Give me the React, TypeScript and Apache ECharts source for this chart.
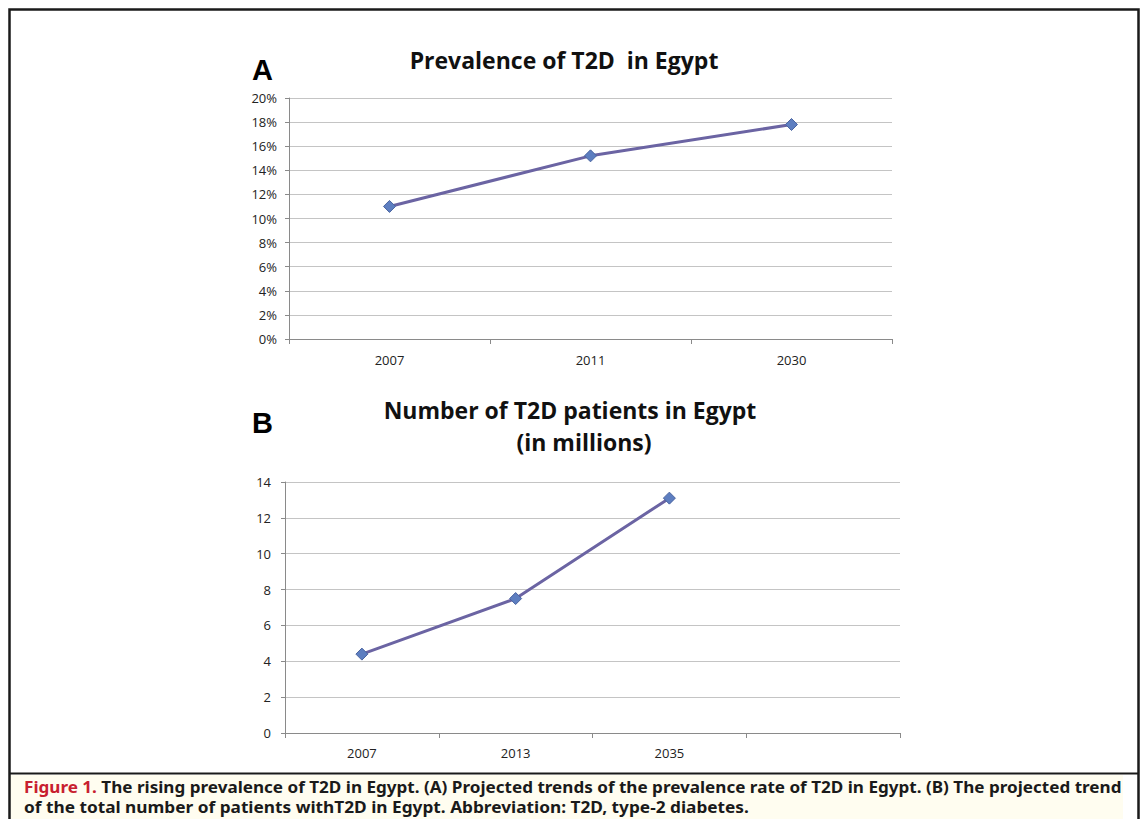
import React, { useEffect, useRef } from "react";
import * as echarts from "echarts";

const catsA = ["2007", "2011", "2030"];
const valsA = [11.0, 15.2, 17.8];
const catsB = ["2007", "2013", "2035", ""];
const valsB: (number | null)[] = [4.4, 7.5, 13.1, null];

const titleA = "Prevalence of T2D  in Egypt";
const titleB1 = "Number of T2D patients in Egypt";
const titleB2 = "(in millions)";
const captionRed = "Figure 1.";
const caption1 = " The rising prevalence of T2D in Egypt. (A) Projected trends of the prevalence rate of T2D in Egypt. (B) The projected trend";
const caption2 = "of the total number of patients withT2D in Egypt. Abbreviation: T2D, type-2 diabetes.";

const LINE = "#6b64a3";
const MARK = "#5d7ec0";
const FONT = "'Open Sans', 'Noto Sans', sans-serif";
const CAPFONT = "'Noto Sans', 'Open Sans', sans-serif";

function measure(text: string, font: string): number {
  const c = document.createElement("canvas").getContext("2d")!;
  c.font = font;
  return c.measureText(text).width;
}

export default function App() {
  const ref = useRef<HTMLDivElement>(null);
  useEffect(() => {
    const chart = echarts.init(ref.current!, undefined, { renderer: "svg" });
    const axisLabel = { color: "#222", fontSize: 13, fontFamily: FONT };
    const capFont = `bold 16px ${CAPFONT}`;
    const w1 = measure(captionRed + caption1, capFont);
    const w2 = measure(caption2, capFont);
    const s1 = Math.min(1.2, 1098 / w1);
    const s2 = Math.min(1.2, 726 / w2);
    const series = (data: any, xi: number) => ({
      type: "line",
      xAxisIndex: xi,
      yAxisIndex: xi,
      data,
      symbol: "diamond",
      symbolSize: 12,
      lineStyle: { color: LINE, width: 3 },
      itemStyle: { color: MARK, borderColor: "#4a64a0", borderWidth: 1 },
      connectNulls: false,
    });
    chart.setOption({
      animation: false,
      backgroundColor: "#ffffff",
      grid: [
        { left: 289, top: 98, width: 603, height: 241 },
        { left: 285, top: 482, width: 615, height: 251 },
      ],
      xAxis: [
        {
          type: "category", gridIndex: 0, data: catsA, boundaryGap: true,
          axisLine: { lineStyle: { color: "#8a8a8a" } },
          axisTick: { show: true, length: 5, lineStyle: { color: "#8a8a8a" } },
          axisLabel: { ...axisLabel, margin: 14 },
        },
        {
          type: "category", gridIndex: 1, data: catsB, boundaryGap: true,
          axisLine: { lineStyle: { color: "#8a8a8a" } },
          axisTick: { show: true, length: 5, lineStyle: { color: "#8a8a8a" } },
          axisLabel: { ...axisLabel, margin: 13 },
        },
      ],
      yAxis: [
        {
          type: "value", gridIndex: 0, min: 0, max: 20, interval: 2,
          axisLine: { show: true, lineStyle: { color: "#8a8a8a" } },
          axisTick: { show: true, length: 4, lineStyle: { color: "#8a8a8a" } },
          splitLine: { lineStyle: { color: "#c4c4c4" } },
          axisLabel: { ...axisLabel, margin: 12, formatter: (v: number) => v + "%" },
        },
        {
          type: "value", gridIndex: 1, min: 0, max: 14, interval: 2,
          axisLine: { show: true, lineStyle: { color: "#8a8a8a" } },
          axisTick: { show: true, length: 4, lineStyle: { color: "#8a8a8a" } },
          splitLine: { lineStyle: { color: "#c4c4c4" } },
          axisLabel: { ...axisLabel, margin: 14 },
        },
      ],
      series: [series(valsA, 0), series(valsB, 1)],
      graphic: [
        { type: "rect", shape: { x: 10, y: 775, width: 1113, height: 50 }, style: { fill: "#fffdf0" }, silent: true },
        { type: "rect", shape: { x: 9.5, y: 9.5, width: 1129, height: 820 }, style: { fill: "none", stroke: "#1a1a1a", lineWidth: 2.5 }, silent: true },
        { type: "line", shape: { x1: 9, y1: 773.5, x2: 1139, y2: 773.5 }, style: { stroke: "#1a1a1a", lineWidth: 2 }, silent: true },
        { type: "text", left: 252, top: 55, style: { text: "A", font: "bold 29px 'Liberation Sans', Arial, sans-serif", fill: "#000" } },
        { type: "text", left: 252, top: 408, style: { text: "B", font: "bold 29px 'Liberation Sans', Arial, sans-serif", fill: "#000" } },
        { type: "text", x: 564, y: 60, style: { text: titleA, font: `bold 23px ${FONT}`, fill: "#111", align: "center", verticalAlign: "middle" } },
        { type: "text", x: 570, y: 410, style: { text: titleB1, font: `bold 23px ${FONT}`, fill: "#111", align: "center", verticalAlign: "middle" } },
        { type: "text", x: 584, y: 442, style: { text: titleB2, font: `bold 23px ${FONT}`, fill: "#111", align: "center", verticalAlign: "middle" } },
        {
          type: "text", x: 24, y: 787, scaleX: s1,
          style: {
            text: `{r|${captionRed}}{b|${caption1}}`,
            verticalAlign: "middle",
            rich: {
              r: { font: capFont, fill: "#c8202f" },
              b: { font: capFont, fill: "#1a1a1a" },
            },
          },
        },
        { type: "text", x: 24, y: 807, scaleX: s2, style: { text: caption2, font: capFont, fill: "#1a1a1a", verticalAlign: "middle" } },
      ],
    });
    return () => chart.dispose();
  }, []);
  return <div ref={ref} style={{ position: "absolute", left: 0, top: 0, width: 1142, height: 819 }} />;
}
